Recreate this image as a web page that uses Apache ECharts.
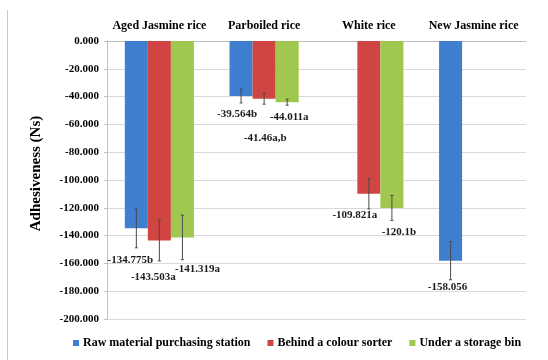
<!DOCTYPE html>
<html>
<head>
<meta charset="utf-8">
<script src="https://cdn.jsdelivr.net/npm/echarts@6/dist/echarts.min.js"></script>
<style>
  html, body { margin: 0; padding: 0; background: #ffffff; }
  #chart { width: 548px; height: 360px; }
</style>
</head>
<body>
<div id="chart"></div>
<script>
// Rice types along the top axis
const categories = ['Aged Jasmine rice', 'Parboiled rice', 'White rice', 'New Jasmine rice'];
const seriesNames = ['Raw material purchasing station', 'Behind a colour sorter', 'Under a storage bin'];

// Mean adhesiveness (Ns); null where no sample was taken
const rawStation   = [-134.775, -39.564, null, -158.056];
const colourSorter = [-143.503, -41.46, -109.821, null];
const storageBin   = [-141.319, -44.011, -120.1, null];

// Standard deviations drawn as error bars
const rawStationErr   = [14, 5, null, 13.7];
const colourSorterErr = [14.7, 4, 11, null];
const storageBinErr   = [16, 2.2, 9, null];

// Significance letters appended to each value label
const rawStationLetters   = ['b', 'b', '', ''];
const colourSorterLetters = ['a', 'a,b', 'a', ''];
const storageBinLetters   = ['a', 'a', 'b', ''];

// Value axis range
const yMin = -200, yMax = 0, yStep = 20;

const values  = [rawStation, colourSorter, storageBin];
const errors  = [rawStationErr, colourSorterErr, storageBinErr];
const letters = [rawStationLetters, colourSorterLetters, storageBinLetters];
const colors  = ['#3f7fcf', '#d04541', '#a0c850'];

// Label nudges [dx, dy] in pixels from the bar end, per series and category
const labelNudge = [
  [[-6, 32], [-4, 18], [0, 0], [-3, 26]],
  [[-6, 37], [1, 40], [-14, 22], [0, 0]],
  [[15, 32], [2, 15], [7, 24], [0, 0]]
];

const serif = '"Liberation Serif", "Times New Roman", serif';
const gapRatio = 0.34;

const barSeries = values.map((vals, i) => ({
  name: seriesNames[i],
  type: 'bar',
  data: vals,
  barGap: '0%',
  barCategoryGap: (gapRatio * 100) + '%',
  itemStyle: { color: colors[i] },
  z: 2
}));

// Error bars and value labels for each series
const overlaySeries = values.map((vals, i) => ({
  type: 'custom',
  name: seriesNames[i] + ' overlay',
  data: categories.map((c, k) => [k, vals[k] == null ? 0 : vals[k]]),
  z: 5,
  silent: true,
  renderItem: function (params, api) {
    const k = params.dataIndex;
    const v = vals[k];
    if (v == null) return null;
    const e = errors[i][k];
    const band = api.size([1, 0])[0];
    const bw = band * (1 - gapRatio) / 3;
    const x = api.coord([k, 0])[0] + (i - 1) * bw;
    const yEnd = api.coord([k, v])[1];
    const yHi = api.coord([k, v + e])[1];
    const yLo = api.coord([k, v - e])[1];
    const stroke = { stroke: '#4a4a4a', lineWidth: 1 };
    const cap = 1.5;
    const nudge = labelNudge[i][k];
    return {
      type: 'group',
      children: [
        { type: 'line', shape: { x1: x, y1: yHi, x2: x, y2: yLo }, style: stroke },
        { type: 'line', shape: { x1: x - cap, y1: yHi, x2: x + cap, y2: yHi }, style: stroke },
        { type: 'line', shape: { x1: x - cap, y1: yLo, x2: x + cap, y2: yLo }, style: stroke },
        {
          type: 'text',
          x: x + nudge[0],
          y: yEnd + nudge[1],
          style: {
            text: String(v) + letters[i][k],
            fontFamily: serif,
            fontWeight: 'bold',
            fontSize: 11,
            fill: '#1a1a1a',
            align: 'center',
            verticalAlign: 'middle'
          }
        }
      ]
    };
  }
}));

const chart = echarts.init(document.getElementById('chart'));
chart.setOption({
  animation: false,
  backgroundColor: '#ffffff',
  grid: { left: 107, right: 22, top: 41, bottom: 41 },
  graphic: [{
    type: 'line',
    shape: { x1: 7.5, y1: 10, x2: 7.5, y2: 360 },
    style: { stroke: '#c8c8c8', lineWidth: 1 }
  }],
  legend: {
    data: seriesNames,
    left: 68,
    bottom: 6,
    icon: 'rect',
    itemWidth: 6,
    itemHeight: 6,
    itemGap: 17,
    textStyle: { fontFamily: serif, fontWeight: 'bold', fontSize: 12, color: '#000000', padding: [0, 0, 0, -1] }
  },
  xAxis: {
    type: 'category',
    position: 'top',
    data: categories,
    axisLine: { lineStyle: { color: '#bfbfbf' } },
    axisTick: { inside: true, length: 4, lineStyle: { color: '#bfbfbf' } },
    axisLabel: { interval: 0, fontFamily: serif, fontWeight: 'bold', fontSize: 12, color: '#000000', margin: 9 },
    splitLine: { show: false }
  },
  yAxis: {
    type: 'value',
    min: yMin,
    max: yMax,
    interval: yStep,
    name: 'Adhesiveness (Ns)',
    nameLocation: 'middle',
    nameGap: 63,
    nameRotate: 90,
    nameTextStyle: { fontFamily: serif, fontWeight: 'bold', fontSize: 15, color: '#000000', padding: [0, 0, 0, 13] },
    axisLine: { show: true, lineStyle: { color: '#bfbfbf' } },
    axisTick: { show: true, length: 3, lineStyle: { color: '#bfbfbf' } },
    axisLabel: {
      fontFamily: serif, fontWeight: 'bold', fontSize: 11, color: '#000000', margin: 8,
      formatter: v => v.toFixed(3)
    },
    splitLine: { lineStyle: { color: '#d9d9d9' } }
  },
  series: barSeries.concat(overlaySeries)
});
</script>
</body>
</html>
